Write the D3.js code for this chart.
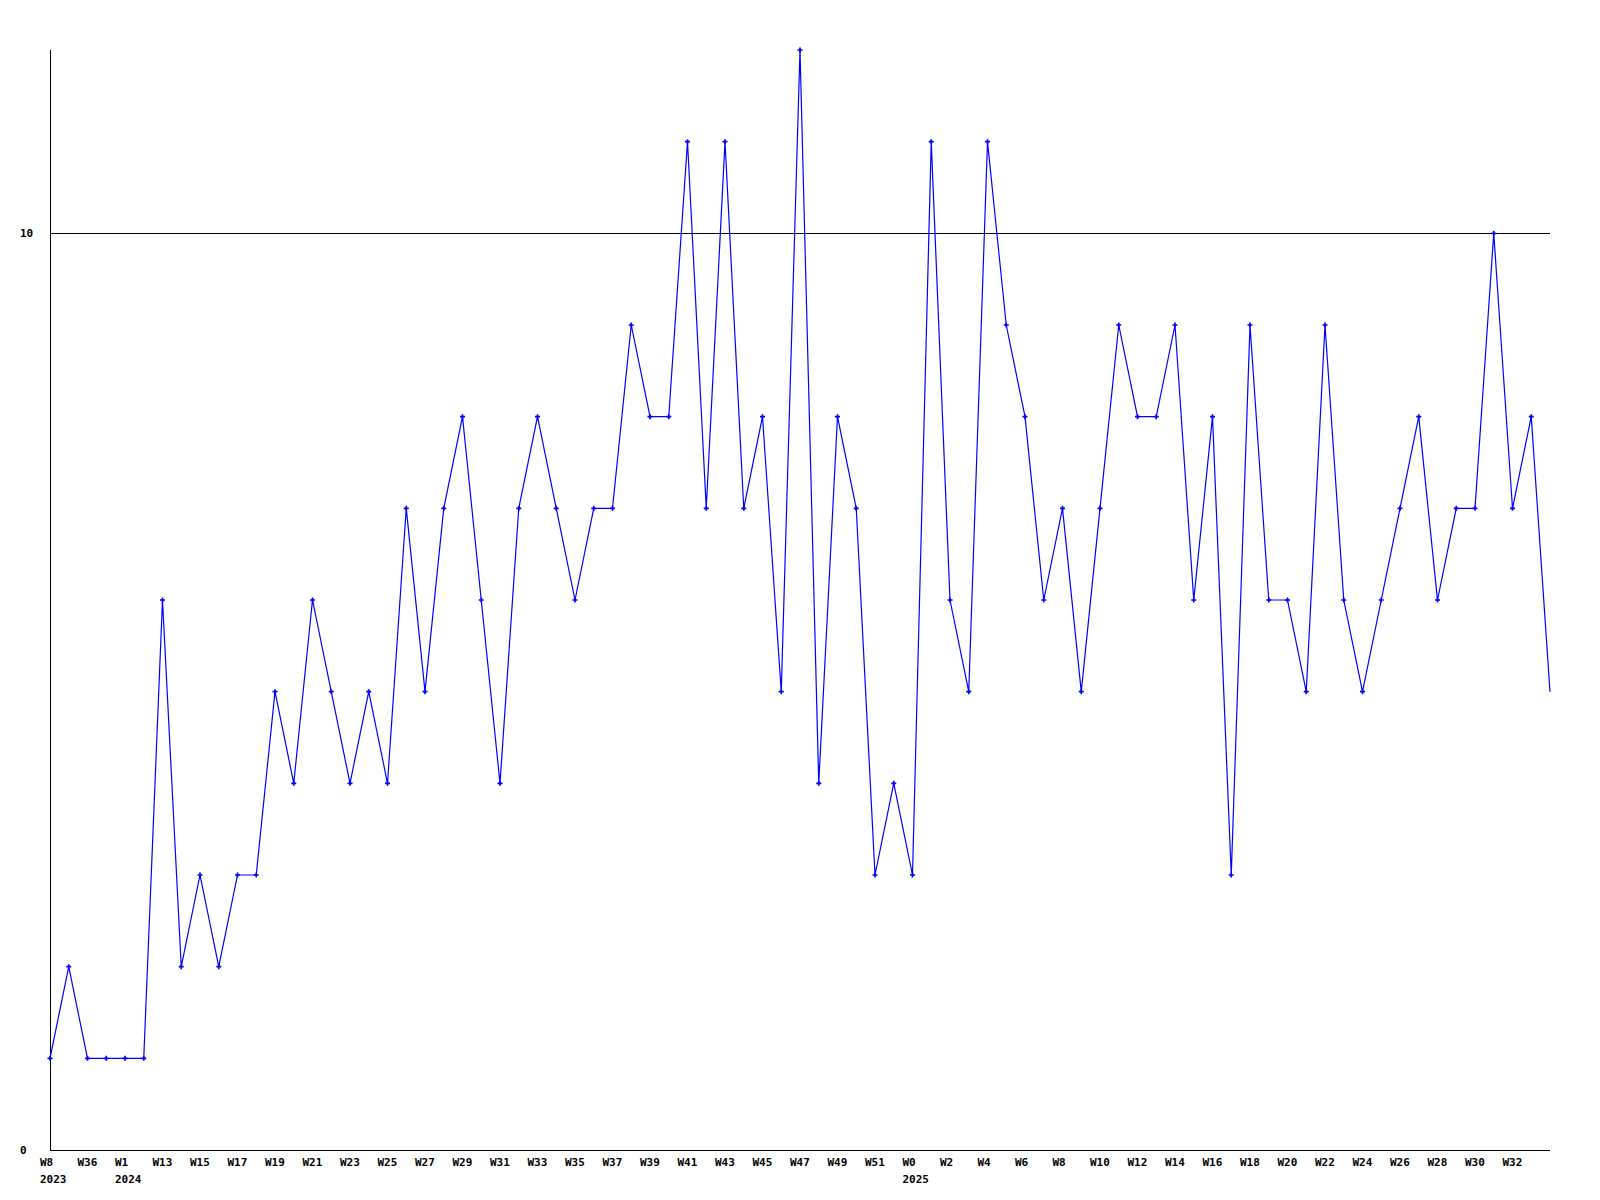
<!DOCTYPE html>
<html>
<head>
<meta charset="utf-8">
<script src="https://cdn.jsdelivr.net/npm/d3@7"></script>
<style>
  html, body { margin: 0; padding: 0; background: #fff; }
  svg { display: block; }
  text { font-family: "DejaVu Sans Mono", "Liberation Mono", monospace; font-weight: bold; font-size: 11px; fill: #000; }
</style>
</head>
<body>
<script>
// Week categories (only every other label is drawn, as in the reference)
const weeks = ["W8","W9","W36","W37","W1","W12",
  "W13","W14","W15","W16","W17","W18","W19","W20","W21","W22","W23","W24","W25","W26",
  "W27","W28","W29","W30","W31","W32","W33","W34","W35","W36","W37","W38","W39","W40",
  "W41","W42","W43","W44","W45","W46","W47","W48","W49","W50","W51","W52",
  "W0","W1","W2","W3","W4","W5","W6","W7","W8","W9","W10","W11","W12","W13","W14","W15",
  "W16","W17","W18","W19","W20","W21","W22","W23","W24","W25","W26","W27","W28","W29",
  "W30","W31","W32","W33","W34"];
// Year labels shown under the first week of each year (index into weeks)
const yearIdx = [0, 4, 46];
const years = ["2023", "2024", "2025"];
// Values per week
const values = [1,2,1,1,1,1,6,2,3,2,3,3,5,4,6,5,4,5,4,7,5,7,8,6,4,7,8,7,6,7,7,9,8,8,
  11,7,11,7,8,5,12,4,8,7,3,4,3,11,6,5,11,9,8,6,7,5,7,9,8,8,9,6,8,3,9,6,6,5,9,6,5,6,7,8,6,7,7,10,7,8,5];
const yTicks = [0, 10];

const W = 1600, H = 1200;
const svg = d3.select("body").append("svg").attr("width", W).attr("height", H);

const x = d3.scaleLinear().domain([0, weeks.length - 1]).range([50, 1550]);
const y = d3.scaleLinear().domain([0, 12]).range([1150, 50]);

// Axes lines
svg.append("line").attr("x1", 50).attr("x2", 50).attr("y1", y(12)).attr("y2", y(0))
  .attr("stroke", "#000").attr("shape-rendering", "crispEdges");
svg.append("line").attr("x1", x(0)).attr("x2", x(weeks.length - 1)).attr("y1", y(0)).attr("y2", y(0))
  .attr("stroke", "#000").attr("shape-rendering", "crispEdges");

// Horizontal reference lines and y labels
yTicks.forEach(t => {
  if (t > 0) {
    svg.append("line").attr("x1", x(0)).attr("x2", x(weeks.length - 1))
      .attr("y1", Math.round(y(t)) + 0.5).attr("y2", Math.round(y(t)) + 0.5)
      .attr("stroke", "#000").attr("shape-rendering", "crispEdges");
  }
  svg.append("text").attr("x", 20).attr("y", y(t) + 4).text(String(t));
});

// X labels (every other week, last week unlabeled)
weeks.forEach((w, i) => {
  if (i % 2 === 0 && i < weeks.length - 1) {
    svg.append("text").attr("x", x(i) - 10).attr("y", 1166).text(w);
  }
});
yearIdx.forEach((i, k) => {
  svg.append("text").attr("x", x(i) - 10).attr("y", 1183).text(years[k]);
});

// Line
const line = d3.line().x((d, i) => x(i)).y(d => y(d));
svg.append("path").datum(values).attr("d", line)
  .attr("fill", "none").attr("stroke", "#0000ff").attr("stroke-width", 1.2);

// Markers (last point has none)
const sym = d3.symbol().type(d3.symbolCross).size(14);
svg.selectAll("path.m").data(values.slice(0, values.length - 1)).enter().append("path")
  .attr("class", "m")
  .attr("transform", (d, i) => `translate(${x(i)},${y(d)})`)
  .attr("d", sym).attr("fill", "#0000ff");
</script>
</body>
</html>
